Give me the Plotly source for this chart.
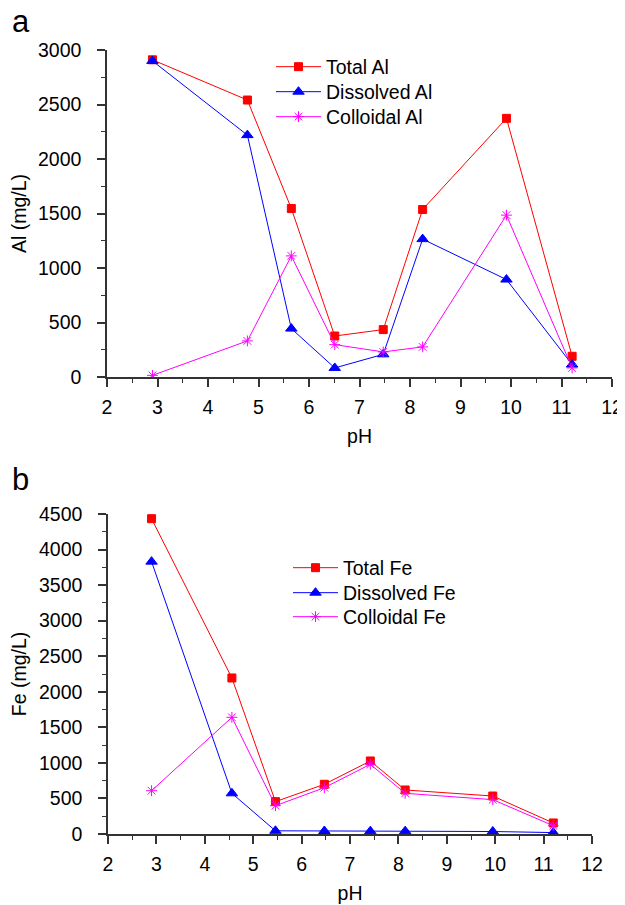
import plotly.graph_objects as go

# Panel a: Al
ph_al = [2.90, 4.78, 5.65, 6.51, 7.47, 8.25, 9.91, 11.21]
total_al = [2910, 2541, 1546, 376, 435, 1537, 2373, 190]
dissolved_al = [2900, 2219, 444, 83, 208, 1265, 894, 114]
colloidal_al = [15, 331, 1111, 297, 230, 276, 1485, 83]

# Panel b: Fe
ph_fe = [2.90, 4.56, 5.46, 6.47, 7.42, 8.14, 9.95, 11.20]
total_fe = [4434, 2194, 455, 699, 1027, 619, 534, 155]
dissolved_fe = [3830, 572, 45, 42, 40, 40, 35, 20]
colloidal_fe = [609, 1641, 398, 651, 980, 572, 483, 117]

FONT = "Arial, Liberation Sans, sans-serif"
FS = 19.5
RED = "#ff0000"
BLUE = "#0000ff"
MAG = "#ff00ff"

W, H = 625, 905
OFF = 8  # page body margin offset
def px(v): return (v - OFF) / W
def py(v): return 1 - (v - OFF) / H

fig = go.Figure()

def add(x, y, name, color, symbol, size, xa, ya, leg):
    fig.add_trace(go.Scatter(
        x=x, y=y, name=name, mode="lines+markers",
        line=dict(color=color, width=1),
        marker=dict(color=color, symbol=symbol, size=size,
                    line=dict(color=color, width=1)),
        xaxis=xa, yaxis=ya, legend=leg, showlegend=True))

add(ph_al, total_al, "Total Al", RED, "square", 8, "x", "y", "legend")
add(ph_al, dissolved_al, "Dissolved Al", BLUE, "triangle-up", 10, "x", "y", "legend2")
add(ph_al, colloidal_al, "Colloidal Al", MAG, "asterisk-open", 9, "x", "y", "legend3")
add(ph_fe, total_fe, "Total Fe", RED, "square", 8, "x2", "y2", "legend4")
add(ph_fe, dissolved_fe, "Dissolved Fe", BLUE, "triangle-up", 10, "x2", "y2", "legend5")
add(ph_fe, colloidal_fe, "Colloidal Fe", MAG, "asterisk-open", 9, "x2", "y2", "legend6")

axis_common = dict(
    showline=True, linecolor="#333333", linewidth=1.5,
    ticks="outside", ticklen=8, tickwidth=1.5, tickcolor="#333333",
    showgrid=False, zeroline=False, mirror=False, automargin=False,
    tickfont=dict(family=FONT, size=FS, color="black"),
    title_font=dict(family=FONT, size=FS, color="black"),
)
minor_common = dict(ticks="outside", ticklen=4, tickwidth=1.2, tickcolor="#333333")

def leg(x, y):
    return dict(x=px(x), y=py(y), xanchor="left", yanchor="middle",
                bgcolor="rgba(0,0,0,0)", font=dict(family=FONT, size=FS),
                tracegroupgap=0, itemwidth=45, borderwidth=0)

fig.update_layout(
    width=W, height=H,
    showlegend=True,
    margin=dict(l=0, r=0, t=0, b=0, autoexpand=False),
    paper_bgcolor="white", plot_bgcolor="white",
    font=dict(family=FONT, size=FS, color="black"),
    xaxis=dict(domain=[px(107), px(612)], range=[2, 12], dtick=1,
               minor=dict(dtick=0.5, **minor_common), ticklabelstandoff=4,
               title=dict(text="pH", standoff=12), anchor="y", **axis_common),
    yaxis=dict(domain=[py(377), py(50)], range=[0, 3000], dtick=500,
               minor=dict(dtick=250, **minor_common), ticklabelstandoff=12,
               title=dict(text="Al (mg/L)", standoff=14), anchor="x", **axis_common),
    xaxis2=dict(domain=[px(108), px(592)], range=[2, 12], dtick=1,
                minor=dict(dtick=0.5, **minor_common), ticklabelstandoff=4,
                title=dict(text="pH", standoff=12), anchor="y2", **axis_common),
    yaxis2=dict(domain=[py(834), py(514)], range=[0, 4500], dtick=500,
                minor=dict(dtick=250, **minor_common), ticklabelstandoff=12,
                title=dict(text="Fe (mg/L)", standoff=14), anchor="x2", **axis_common),
    legend=leg(271, 67),
    legend2=leg(271, 92),
    legend3=leg(271, 117),
    legend4=leg(288, 568),
    legend5=leg(288, 593),
    legend6=leg(288, 617),
    annotations=[
        dict(text="a", x=px(10), y=py(21), xref="paper", yref="paper",
             xanchor="left", yanchor="middle", showarrow=False,
             font=dict(family=FONT, size=31, color="black")),
        dict(text="b", x=px(10), y=py(479), xref="paper", yref="paper",
             xanchor="left", yanchor="middle", showarrow=False,
             font=dict(family=FONT, size=31, color="black")),
    ],
)

fig.write_html("out.html")
